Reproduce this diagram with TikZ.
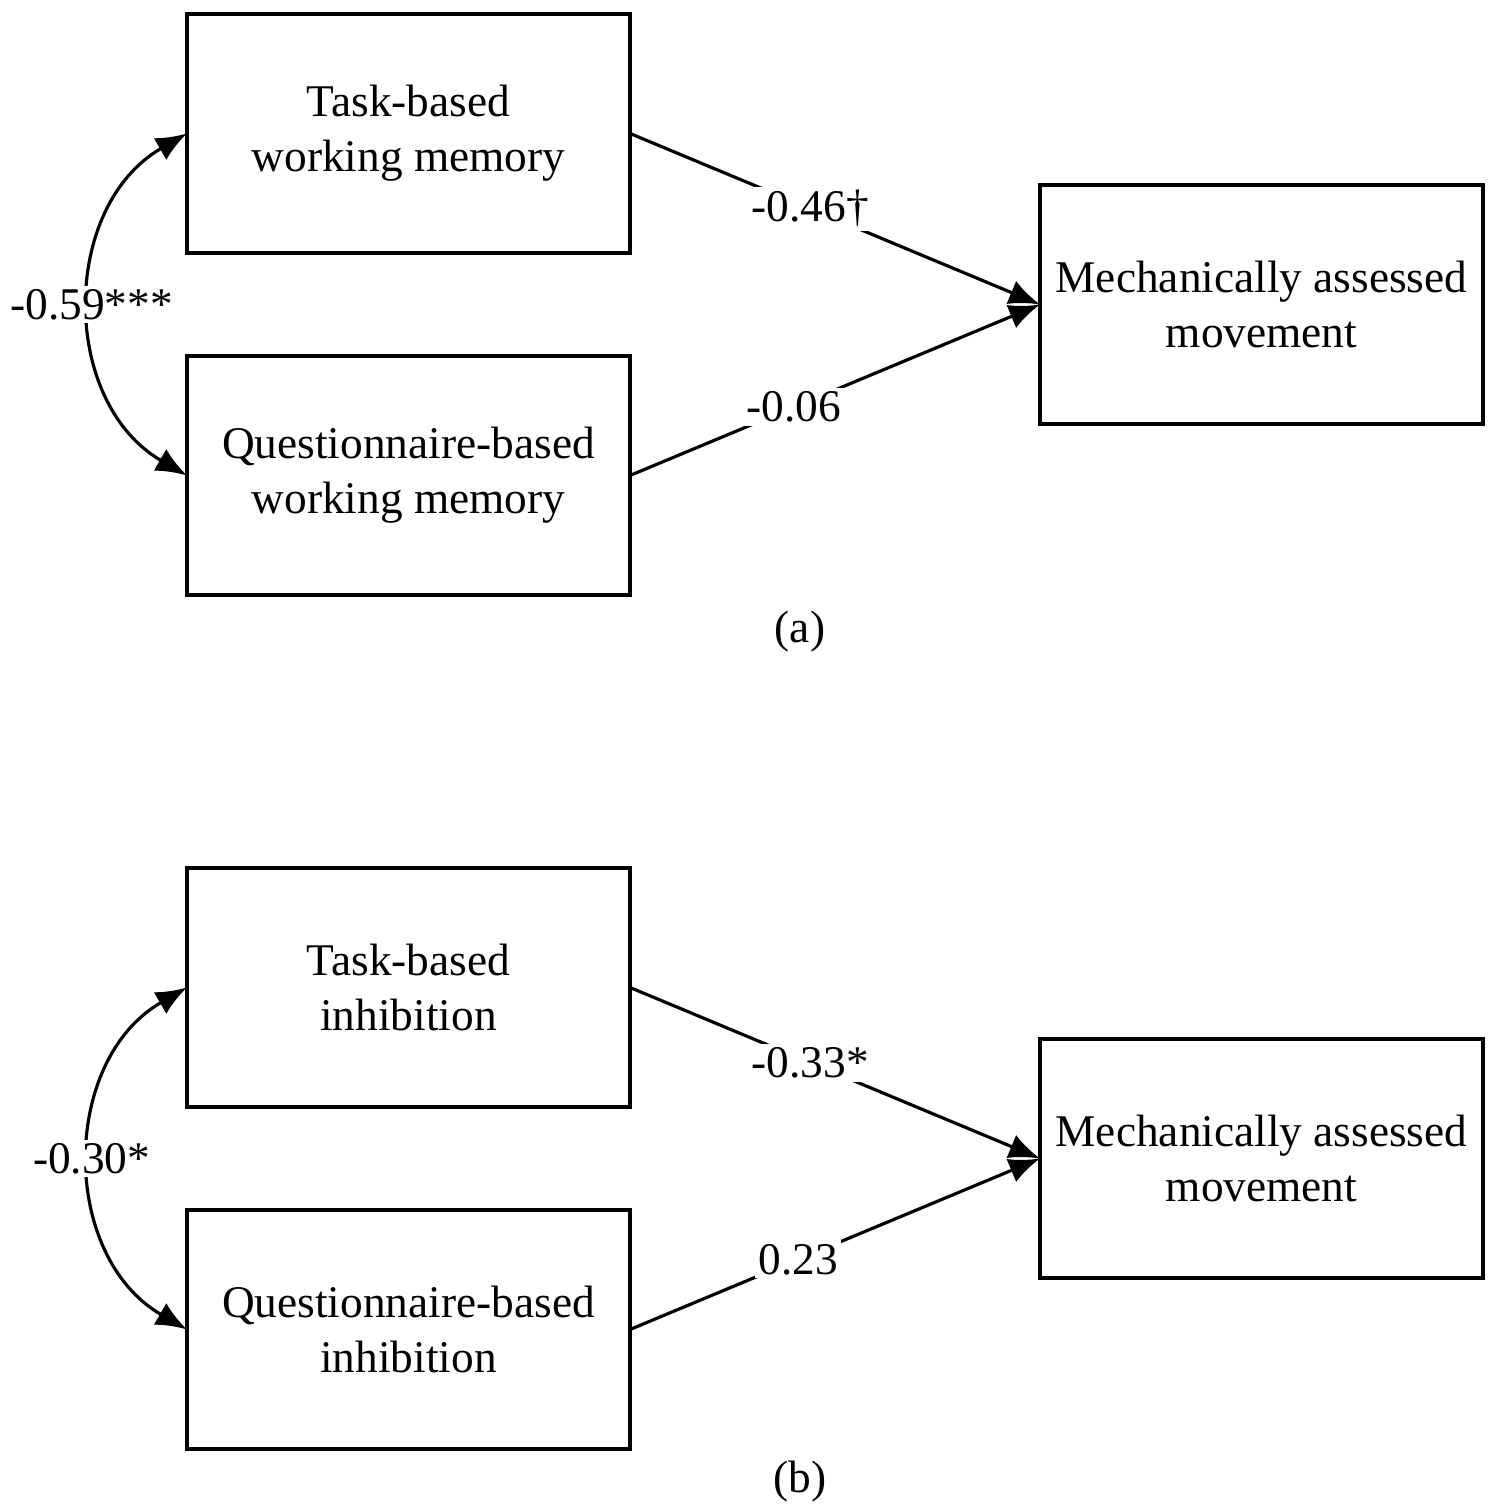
\documentclass[tikz,border=0pt]{standalone}
\usepackage{fontspec}
\setmainfont{Liberation Serif}
\usetikzlibrary{positioning,arrows.meta,calc}

\begin{document}
\begin{tikzpicture}[
		font=\fontsize{12.9}{15.6}\selectfont,
		varbox/.style={draw, line width=0.9pt, minimum width=4.43cm, minimum height=2.39cm, align=center, inner sep=2pt, outer sep=0pt},
		coef/.style={fill=white, inner sep=1pt},
		effect/.style={line width=0.9pt, -{Latex[length=0.31cm,width=0.25cm]}},
		covar/.style={line width=0.9pt, {Latex[length=0.31cm,width=0.25cm]}-{Latex[length=0.31cm,width=0.25cm]}, out=210, in=150, looseness=1.1}
	]
	\useasboundingbox (0,0) rectangle (14.92,15.05);
	% (a)
	\node[varbox] (taskwm) at (4.085,13.715) {Task-based\\working memory};
	\node[varbox, below=1.03cm of taskwm] (queswm) {Questionnaire-based\\working memory};
	\coordinate (midwm) at ($(taskwm.east)!0.5!(queswm.east)$);
	\node[varbox, right=4.1cm of midwm] (movea) {Mechanically assessed\\movement};
	\node (capa) at (8.0,8.73) {(a)};
	\draw[effect] (taskwm.east) -- node[coef, pos=0.44] {-0.46†} (movea.west);
	\draw[effect] (queswm.east) -- node[coef, pos=0.4] {-0.06} (movea.west);
	\draw[covar] (taskwm.west) to node[coef] {-0.59***} (queswm.west);
	% (b)
	\node[varbox] (taskin) at (4.085,5.175) {Task-based\\inhibition};
	\node[varbox, below=1.03cm of taskin] (quesin) {Questionnaire-based\\inhibition};
	\coordinate (midin) at ($(taskin.east)!0.5!(quesin.east)$);
	\node[varbox, right=4.1cm of midin] (moveb) {Mechanically assessed\\movement};
	\node (capb) at (8.0,0.23) {(b)};
	\draw[effect] (taskin.east) -- node[coef, pos=0.44] {-0.33*} (moveb.west);
	\draw[effect] (quesin.east) -- node[coef, pos=0.41] {0.23} (moveb.west);
	\draw[covar] (taskin.west) to node[coef] {-0.30*} (quesin.west);
\end{tikzpicture}
\end{document}
